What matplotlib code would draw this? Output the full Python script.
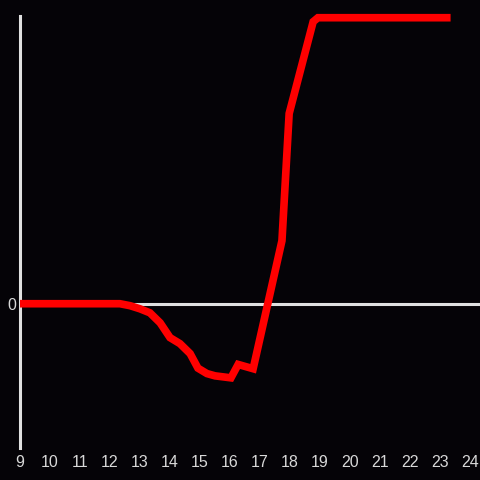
import matplotlib
matplotlib.use("Agg")
import matplotlib.pyplot as plt

# hours of day and value
hours = [9, 12.33, 12.67, 13, 13.33, 13.67, 14, 14.33, 14.67, 14.93, 15.23,
         15.5, 16.03, 16.27, 16.77, 17.73, 17.97, 18.77, 18.93, 23.35]
values = [0, 0, -0.7, -1.8, -3.2, -6.7, -11.9, -14, -17.5, -22.6, -24.5,
          -25.3, -26, -21.3, -22.8, 22.1, 66.7, 98.9, 100.3, 100.3]
xticks = list(range(9, 25))

bg = "#050307"
fg = "#d8d8d8"

plt.rcParams['font.family'] = ['Liberation Sans', 'DejaVu Sans']

fig = plt.figure(figsize=(4.8, 4.8), dpi=100, facecolor=bg)
ax = fig.add_axes([20 / 480, 32 / 480, 460 / 480, 432 / 480], facecolor=bg)

# zero line behind the data
ax.axhline(0, color="#e0e0e0", linewidth=2.2, zorder=1)
ax.plot(hours, values, color="#ff0000", linewidth=5.5, zorder=3,
        solid_joinstyle="miter", solid_capstyle="butt", clip_on=False)

ax.set_xlim(9, 24.33)
ax.set_ylim(-50.6, 100.9)
ax.set_xticks(xticks)
ax.set_yticks([0])

for s in ["top", "right", "bottom"]:
    ax.spines[s].set_visible(False)
ax.spines["left"].set_color("#e0e0e0")
ax.spines["left"].set_linewidth(2.2)

ax.tick_params(axis="x", length=0, pad=5, labelsize=11.5, labelcolor=fg)
ax.tick_params(axis="y", length=0, pad=3, labelsize=11.5, labelcolor=fg)

fig.savefig("out.png", dpi=100, facecolor=bg)
